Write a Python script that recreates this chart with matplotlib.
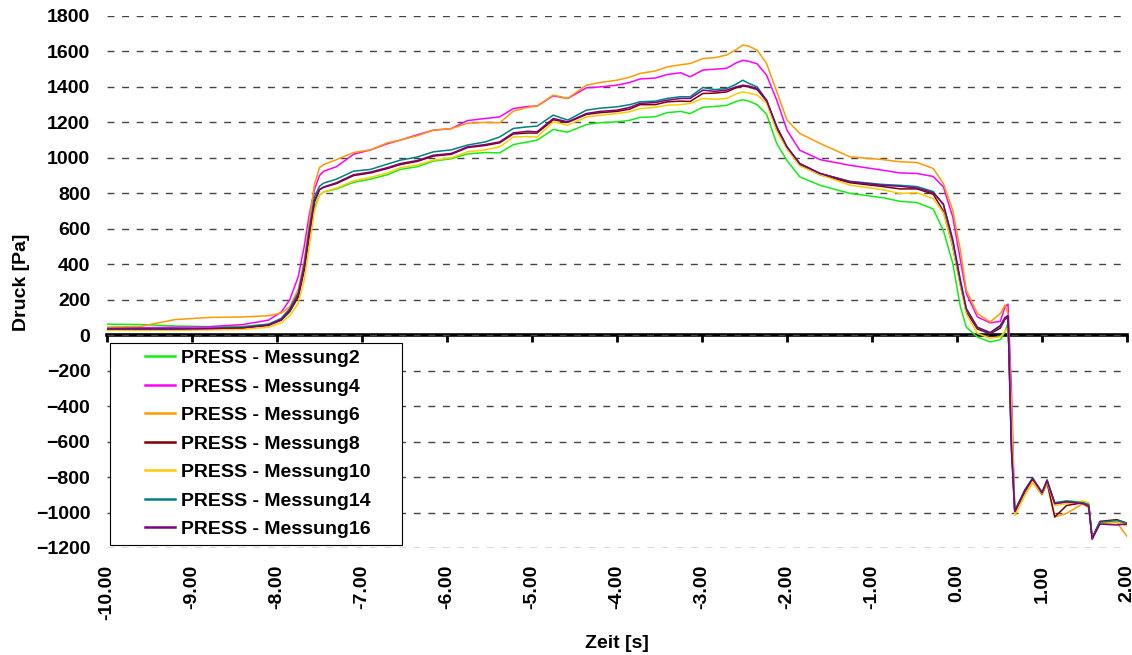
import matplotlib
matplotlib.use("Agg")
import matplotlib.pyplot as plt
from matplotlib.path import Path
from matplotlib.ticker import FormatStrFormatter

plt.rcParams['font.family'] = ['Liberation Sans', 'DejaVu Sans']
plt.rcParams['font.weight'] = 'bold'

# ---- data ----
zeit = [-10.0, -9.6, -9.2, -8.8, -8.4, -8.1, -7.95, -7.85, -7.75, -7.68,
        -7.62, -7.56, -7.5, -7.45, -7.3, -7.1, -6.9, -6.7, -6.55, -6.35,
        -6.16, -5.95, -5.76, -5.55, -5.38, -5.22, -5.05, -4.94, -4.75, -4.58,
        -4.36, -4.2, -4.0, -3.85, -3.73, -3.55, -3.41, -3.25, -3.14, -2.99,
        -2.85, -2.71, -2.6, -2.52, -2.45, -2.35, -2.24, -2.12, -2.0, -1.85,
        -1.61, -1.26, -0.87, -0.67, -0.47, -0.28, -0.16, -0.05, 0.04, 0.11,
        0.24, 0.39, 0.51, 0.565, 0.6, 0.64, 0.68, 0.8, 0.89, 1.0,
        1.06, 1.15, 1.29, 1.48, 1.55, 1.59, 1.68, 1.88, 2.0]

messung2 = [62, 60, 52, 48, 50, 62, 85, 130, 220, 380,
            560, 720, 790, 808, 825, 862, 880, 905, 935, 950,
            982, 995, 1022, 1030, 1028, 1075, 1090, 1100, 1160, 1145,
            1188, 1198, 1203, 1212, 1228, 1232, 1255, 1262, 1250, 1285,
            1290, 1296, 1318, 1328, 1320, 1300, 1245, 1080, 985, 893,
            845, 800, 775, 755, 748, 712, 590, 405, 160, 45,
            -10, -38, -25, 20, 70, -480, -985, -875, -812, -885,
            -825, -945, -935, -940, -965, -1140, -1060, -1048, -1070]

messung4 = [42, 42, 45, 48, 60, 85, 130, 200, 330, 500,
            680, 820, 900, 925, 950, 1020, 1045, 1080, 1100, 1130,
            1156, 1165, 1210, 1222, 1231, 1278, 1290, 1292, 1350, 1335,
            1395, 1400, 1410, 1425, 1445, 1450, 1470, 1480, 1457, 1495,
            1500, 1505, 1535, 1550, 1545, 1530, 1466, 1325, 1156, 1043,
            990, 958, 930, 915, 912, 895, 836, 667, 423, 235,
            103, 70, 78, 160, 175, -300, -1000, -880, -815, -890,
            -825, -950, -940, -945, -960, -1145, -1060, -1050, -1075]

messung6 = [45, 50, 88, 100, 103, 110, 125, 160, 260, 420,
            640, 850, 945, 962, 990, 1030, 1045, 1085, 1100, 1125,
            1156, 1165, 1195, 1200, 1198, 1263, 1285, 1292, 1354, 1335,
            1410, 1425, 1438, 1455, 1476, 1490, 1513, 1525, 1532, 1560,
            1565, 1580, 1610, 1636, 1630, 1607, 1532, 1372, 1213, 1138,
            1081, 1006, 990, 978, 974, 940, 855, 705, 479, 254,
            122, 75, 122, 170, 120, -500, -1015, -900, -830, -900,
            -835, -1025, -1005, -950, -975, -1150, -1065, -1055, -1135]

messung8 = [32, 32, 33, 35, 40, 55, 85, 135, 215, 365,
            565, 750, 820, 834, 855, 900, 915, 940, 962, 980,
            1010, 1020, 1058, 1070, 1085, 1135, 1140, 1140, 1215, 1200,
            1245, 1255, 1262, 1275, 1300, 1300, 1316, 1320, 1318, 1363,
            1365, 1372, 1395, 1405, 1400, 1385, 1320, 1165, 1055, 960,
            905, 860, 838, 825, 825, 795, 700, 500, 285, 130,
            35, 8, 40, 90, 100, -620, -1000, -880, -812, -895,
            -830, -1025, -960, -945, -960, -1145, -1050, -1040, -1060]

messung10 = [28, 28, 28, 30, 33, 45, 70, 110, 180, 310,
             500, 700, 790, 808, 830, 870, 890, 915, 944, 960,
             987, 1000, 1034, 1045, 1062, 1118, 1120, 1118, 1203, 1184,
             1231, 1240, 1250, 1260, 1278, 1285, 1297, 1300, 1307, 1335,
             1330, 1335, 1360, 1372, 1365, 1354, 1307, 1150, 1050, 955,
             905, 846, 820, 799, 803, 771, 690, 500, 280, 120,
             10, -17, -9, 23, 40, -400, -1015, -900, -825, -895,
             -830, -960, -950, -935, -945, -1150, -1060, -1050, -1075]

messung14 = [38, 38, 38, 40, 45, 62, 95, 150, 240, 400,
             600, 780, 840, 858, 880, 925, 935, 965, 987, 1005,
             1034, 1045, 1072, 1090, 1118, 1166, 1175, 1179, 1241, 1213,
             1269, 1280, 1288, 1300, 1316, 1320, 1335, 1345, 1344, 1397,
             1385, 1391, 1415, 1438, 1420, 1400, 1325, 1175, 1062, 968,
             912, 868, 850, 845, 838, 810, 735, 530, 300, 145,
             42, 12, 50, 95, 110, -600, -990, -870, -805, -885,
             -815, -945, -935, -945, -955, -1145, -1055, -1045, -1060]

messung16 = [35, 35, 35, 37, 42, 58, 88, 140, 225, 380,
             580, 760, 822, 836, 860, 905, 920, 945, 968, 985,
             1015, 1025, 1062, 1075, 1090, 1141, 1150, 1147, 1222, 1203,
             1250, 1262, 1269, 1285, 1307, 1312, 1325, 1335, 1335, 1382,
             1375, 1382, 1400, 1410, 1405, 1390, 1325, 1175, 1062, 968,
             912, 865, 845, 840, 830, 803, 740, 540, 310, 150,
             45, 15, 55, 100, 110, -650, -995, -875, -808, -890,
             -820, -950, -940, -950, -965, -1150, -1065, -1070, -1065]

labels = ["PRESS - Messung2", "PRESS - Messung4", "PRESS - Messung6",
          "PRESS - Messung8", "PRESS - Messung10", "PRESS - Messung14",
          "PRESS - Messung16"]
series = [messung2, messung4, messung6, messung8, messung10, messung14, messung16]
colors = ["#11EE11", "#FF00FF", "#FF9900", "#800000", "#FFCC00", "#008080", "#800080"]

x_ticks = [-10, -9, -8, -7, -6, -5, -4, -3, -2, -1, 0, 1, 2]
y_ticks = list(range(-1200, 1801, 200))

# ---- figure ----
W, H = 1132, 655
fig = plt.figure(figsize=(W / 100, H / 100), dpi=100)
ax = fig.add_axes([107 / W, 1 - 548 / H, 1020 / W, 532 / H])

for vals, lab, col in zip(series, labels, colors):
    ax.plot(zeit, vals, color=col, lw=1.1, label=lab)

ax.set_xlim(-10, 2)
ax.set_ylim(-1200, 1800)
ax.set_xticks(x_ticks)
ax.set_yticks(y_ticks)
ax.xaxis.set_major_formatter(FormatStrFormatter('%.2f'))
for s in ax.spines.values():
    s.set_visible(False)
ax.tick_params(axis='x', length=0, pad=12, labelsize=14, labelrotation=90)
ax.tick_params(axis='y', length=0, pad=12, labelsize=14)
for t in ax.get_xticklabels() + ax.get_yticklabels():
    t.set_fontweight('bold')

ax.yaxis.grid(True, color='#444444', lw=1.0, linestyle=(0, (5, 5.5)))
ax.xaxis.grid(False)
ax.set_axisbelow(True)

ax.set_xlabel('Zeit [s]', fontsize=14, fontweight='bold', labelpad=11)
ax.set_ylabel('Druck [Pa]', fontsize=14, fontweight='bold', labelpad=4)

# zero-line axis with ticks
sec = ax.secondary_xaxis(0, transform=ax.transData)
sec.set_xticks(x_ticks)
sec.tick_params(axis='x', direction='out', length=5, width=2, labelbottom=False, labeltop=False)
sec.spines['bottom'].set_linewidth(2.6)
sec.spines['bottom'].set_color('black')

leg = ax.legend(loc='upper left', bbox_to_anchor=(0.0304, 0.3853), borderaxespad=0,
                prop={'size': 14, 'weight': 'bold'}, borderpad=0.34, labelspacing=0.56,
                handlelength=1.55, handletextpad=0.3, frameon=True, framealpha=1,
                fancybox=False)
frame = leg.get_frame()
frame.set_edgecolor('black')
frame.set_linewidth(0.8)


def legend_box(x0, y0, width, height, mutation_size):
    left = x0 - 1.45 * mutation_size
    right = x0 + width + 1.3 * mutation_size
    return Path([(left, y0), (right, y0), (right, y0 + height), (left, y0 + height), (left, y0)],
                closed=True)


frame.set_boxstyle(legend_box)
for line in leg.get_lines():
    line.set_linewidth(1.8)

fig.savefig('out.png', dpi=100)
